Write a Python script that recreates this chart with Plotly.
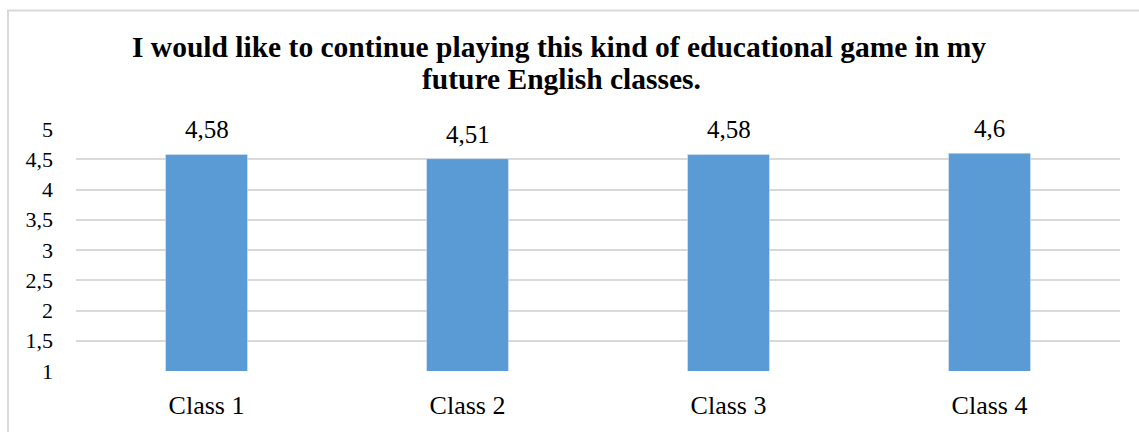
import plotly.graph_objects as go

categories = ["Class 1", "Class 2", "Class 3", "Class 4"]
values = [4.58, 4.51, 4.58, 4.6]
tick_vals = [1, 1.5, 2, 2.5, 3, 3.5, 4, 4.5, 5]
tick_text = ["1", "1,5", "2", "2,5", "3", "3,5", "4", "4,5", "5"]
title_lines = ["I would like to continue playing this kind of educational game in my",
               "future English classes."]

W, H = 1139, 432
ml, mr, mt, mb = 76, 19, 129, 58
pw, ph = W - ml - mr, H - mt - mb
SERIF = "Liberation Serif"

fig = go.Figure(go.Bar(
    x=categories, y=values, marker_color="#5B9BD5", width=0.314,
    hoverinfo="skip",
))

for c, v in zip(categories, values):
    fig.add_annotation(x=c, y=v, text=str(v).replace(".", ","), showarrow=False,
                       yanchor="bottom", yshift=9,
                       font=dict(family=SERIF, size=25, color="#000000"))

# title as two centred lines
for line, cy, cx in zip(title_lines, [46, 78], [559, 561]):
    fig.add_annotation(xref="paper", yref="paper", x=(cx - ml) / pw, y=1 + (mt - cy) / ph,
                       xanchor="center", yanchor="middle", showarrow=False,
                       text="<b>" + line + "</b>",
                       font=dict(family=SERIF, size=29.5, color="#000000"))

# chart border (top and left edge visible)
fig.add_shape(type="rect", xref="paper", yref="paper",
              x0=(8 - ml) / pw, x1=(W + 20 - ml) / pw,
              y0=-(H + 20 - mt - ph) / ph, y1=1 + (mt - 9) / ph,
              line=dict(color="#D9D9D9", width=2), layer="below")

fig.update_layout(
    width=W, height=H,
    margin=dict(l=ml, r=mr, t=mt, b=mb),
    paper_bgcolor="white", plot_bgcolor="white",
    showlegend=False,
    xaxis=dict(showline=False, tickfont=dict(family=SERIF, size=26, color="#000000"),
               ticks="", ticklabelstandoff=16, fixedrange=True),
    yaxis=dict(range=[1, 5], tickvals=tick_vals, ticktext=tick_text,
               showgrid=True, gridcolor="#D9D9D9", gridwidth=1.5, zeroline=False,
               showline=False, ticks="", ticklabelstandoff=22,
               tickfont=dict(family=SERIF, size=22, color="#000000"), fixedrange=True),
)

fig.write_html("out.html")
